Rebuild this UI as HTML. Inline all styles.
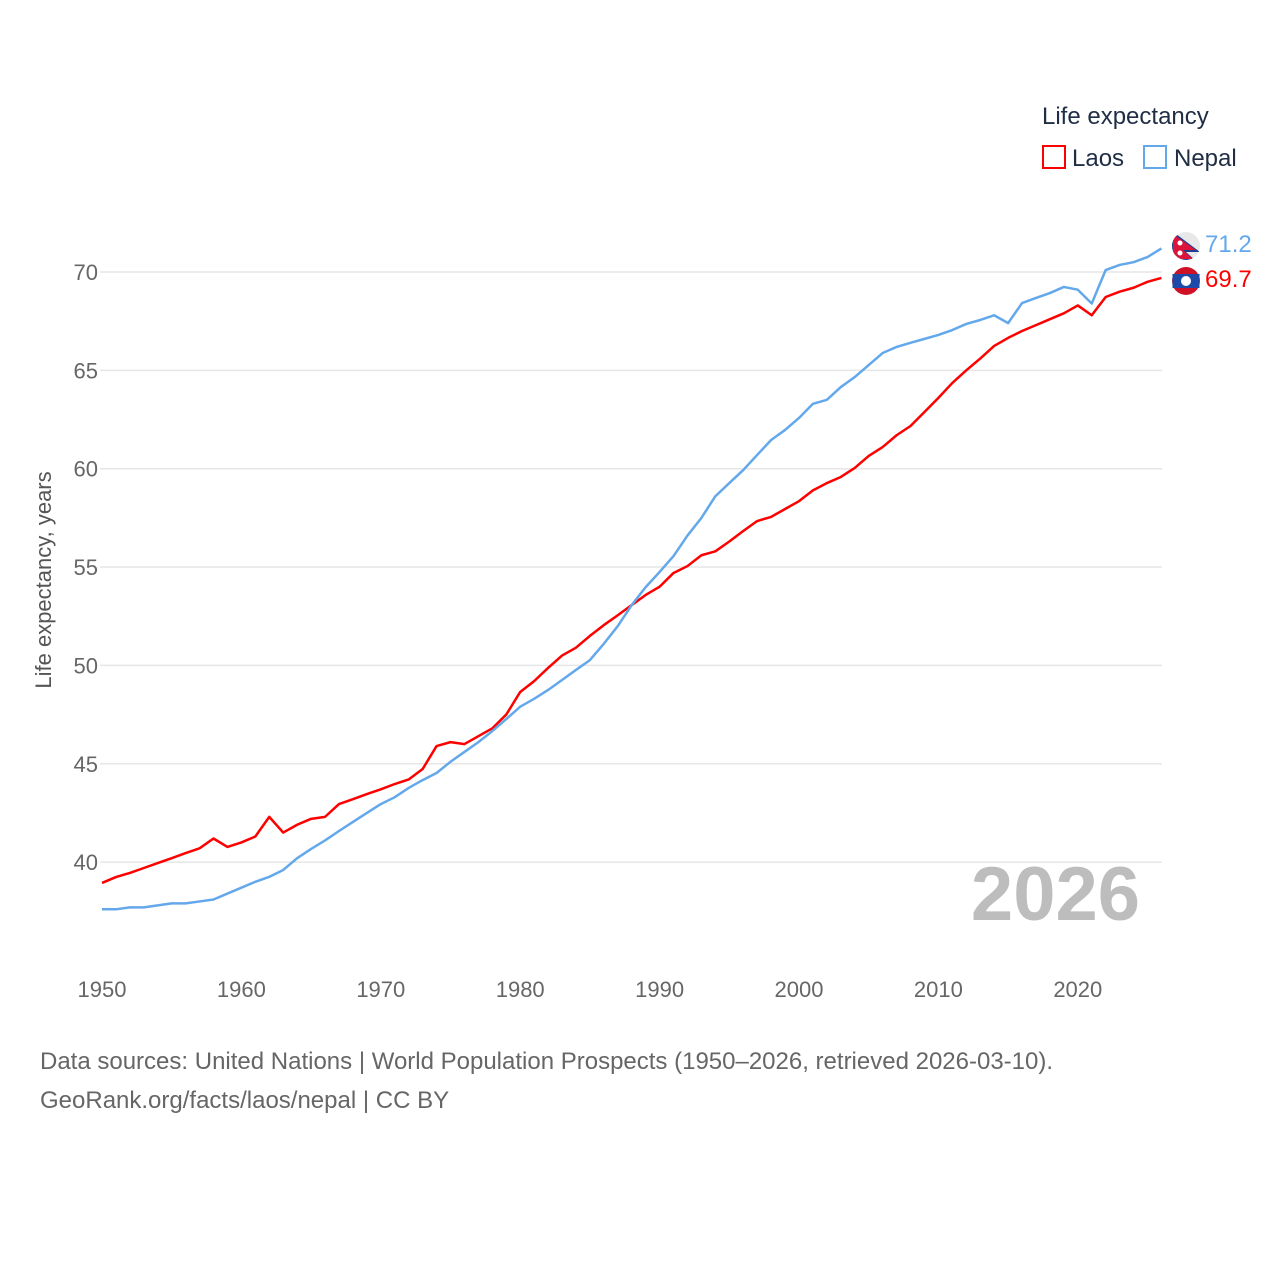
<!DOCTYPE html>
<html><head><meta charset="utf-8"><style>
body{margin:0;background:#fff;font-family:"Liberation Sans",sans-serif}
svg text{font-family:"Liberation Sans",sans-serif}
</style></head><body>
<svg width="1280" height="1280">
<defs><clipPath id="npc"><circle cx="1186" cy="246" r="14"/></clipPath></defs>
<g id="grid"></g><g id="lines"></g><g id="ticks"></g>
<text x="1042" y="124" font-size="24" fill="#1f2d45">Life expectancy</text>
<g><rect x="1043" y="146" width="22" height="22" fill="none" stroke="#ff0000" stroke-width="2"/><text x="1072" y="166" font-size="24" fill="#1f2d45">Laos</text></g>
<g><rect x="1144" y="146" width="22" height="22" fill="none" stroke="#64a8ec" stroke-width="2"/><text x="1174" y="166" font-size="24" fill="#1f2d45">Nepal</text></g>
<text transform="translate(51,580) rotate(-90)" text-anchor="middle" font-size="22" fill="#555">Life expectancy, years</text>
<text x="1140" y="920" text-anchor="end" font-size="76" font-weight="bold" fill="#bdbdbd">2026</text>
<g clip-path="url(#npc)"><rect x="1172" y="232" width="28" height="28" fill="#e8e8e8"/><path d="M1172,231 L1200,252 L1186,252 L1196,261 L1172,261 Z" fill="#1d3d8f"/><path d="M1173,234 L1196,250 L1183,250 L1193,259 L1173,259 Z" fill="#dc143c"/><circle cx="1180" cy="243" r="2.5" fill="#fff"/><circle cx="1180" cy="253" r="2.5" fill="#fff"/></g>
<g><circle cx="1186" cy="281" r="14" fill="#ce1126"/><rect x="1172.5" y="274" width="27" height="14" fill="#1d4aa8"/><circle cx="1186" cy="281" r="5" fill="#fff"/></g>
<text x="1205" y="252" font-size="24" fill="#64a8ec">71.2</text>
<text x="1205" y="287" font-size="24" fill="#ff0000">69.7</text>
<text x="40" y="1069" font-size="24" fill="#666">Data sources: United Nations | World Population Prospects (1950–2026, retrieved 2026-03-10).</text>
<text x="40" y="1108" font-size="24" fill="#666">GeoRank.org/facts/laos/nepal | CC BY</text>
</svg>
<script>
const years=[];for(let y=1950;y<=2026;y++)years.push(y);
const laos=[38.94,39.24,39.45,39.7,39.95,40.2,40.46,40.7,41.2,40.77,41.0,41.3,42.3,41.5,41.9,42.2,42.3,42.95,43.2,43.46,43.7,43.97,44.2,44.73,45.9,46.1,46.0,46.4,46.8,47.5,48.65,49.2,49.87,50.5,50.9,51.5,52.05,52.55,53.07,53.58,54.0,54.7,55.05,55.6,55.8,56.3,56.83,57.34,57.55,57.95,58.35,58.9,59.27,59.58,60.04,60.65,61.1,61.7,62.17,62.88,63.6,64.36,65.0,65.6,66.24,66.65,67.0,67.3,67.6,67.9,68.3,67.8,68.73,69.0,69.2,69.5,69.7];
const nepal=[37.6,37.6,37.7,37.7,37.8,37.9,37.9,38.0,38.1,38.4,38.7,39.0,39.25,39.6,40.2,40.67,41.1,41.58,42.04,42.5,42.95,43.3,43.77,44.17,44.53,45.1,45.6,46.1,46.66,47.27,47.9,48.3,48.75,49.26,49.77,50.27,51.1,52.0,53.07,53.98,54.75,55.56,56.6,57.5,58.6,59.27,59.93,60.7,61.46,61.97,62.58,63.3,63.5,64.15,64.66,65.27,65.88,66.19,66.4,66.6,66.8,67.05,67.36,67.56,67.8,67.4,68.42,68.68,68.93,69.24,69.1,68.4,70.1,70.36,70.5,70.76,71.2];
const yTicks=[40,45,50,55,60,65,70];
const xTicks=[1950,1960,1970,1980,1990,2000,2010,2020];
const NS='http://www.w3.org/2000/svg';
const X=y=>102+(y-1950)*13.94;
const Y=v=>272+(70-v)*19.67;
const grid=document.getElementById('grid'),ticks=document.getElementById('ticks'),lines=document.getElementById('lines');
yTicks.forEach(v=>{
 const l=document.createElementNS(NS,'line');
 l.setAttribute('x1',100);l.setAttribute('x2',1162);l.setAttribute('y1',Y(v));l.setAttribute('y2',Y(v));
 l.setAttribute('stroke','#e6e6e6');l.setAttribute('stroke-width','1.5');
 
 
 grid.appendChild(l);
 const t=document.createElementNS(NS,'text');
 t.setAttribute('x',98);t.setAttribute('y',Y(v)+8);t.setAttribute('text-anchor','end');
 t.setAttribute('font-size','22');t.setAttribute('fill','#666');t.textContent=v;
 
 
 ticks.appendChild(t);
});
xTicks.forEach(v=>{
 const t=document.createElementNS(NS,'text');
 t.setAttribute('x',X(v));t.setAttribute('y',997);t.setAttribute('text-anchor','middle');
 t.setAttribute('font-size','22');t.setAttribute('fill','#666');t.textContent=v;
 
 
 ticks.appendChild(t);
});
function line(data,color,name){
 const p=document.createElementNS(NS,'polyline');
 p.setAttribute('points',data.map((v,i)=>X(years[i])+','+Y(v)).join(' '));
 p.setAttribute('fill','none');p.setAttribute('stroke',color);p.setAttribute('stroke-width','2.5');
 p.setAttribute('stroke-linejoin','round');
 
 
 lines.appendChild(p);
}
line(laos,'#ff0000','laos-line');
line(nepal,'#64a8ec','nepal-line');
</script>
</body></html>
